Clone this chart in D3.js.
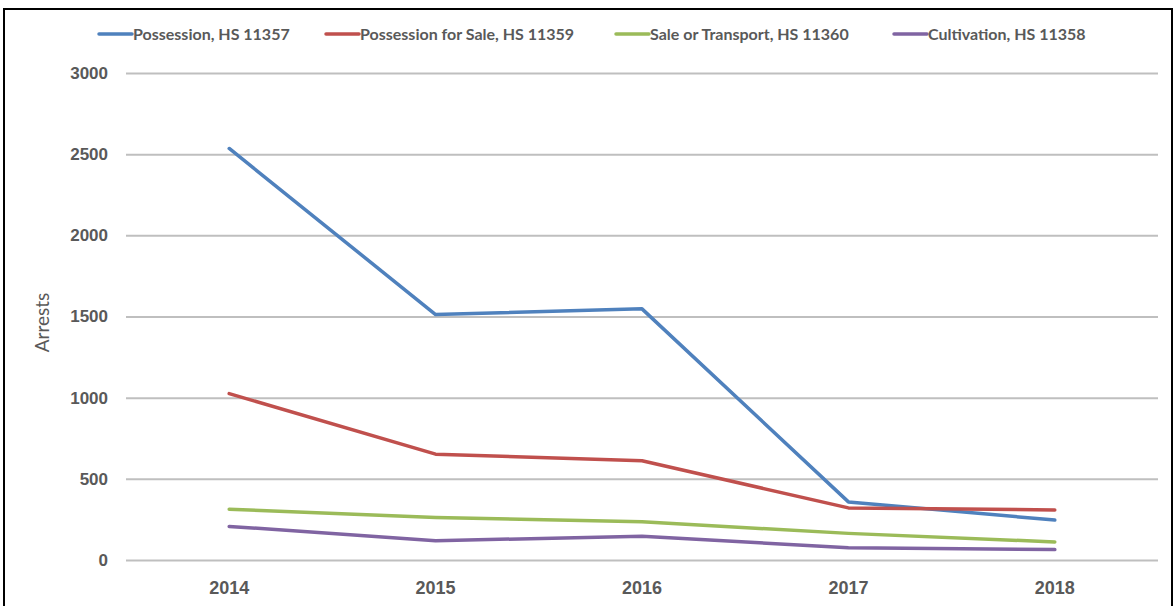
<!DOCTYPE html>
<html>
<head>
<meta charset="utf-8">
<script src="https://cdnjs.cloudflare.com/ajax/libs/d3/7.8.5/d3.min.js"></script>
<style>
  body { margin: 0; background: #fff; }
  svg { display: block; font-family: Lato, "Open Sans", sans-serif; }
</style>
</head>
<body>
<svg id="chart" width="1175" height="606"></svg>
<script>
// data
var years = ["2014", "2015", "2016", "2017", "2018"];
var seriesNames = ["Possession, HS 11357", "Possession for Sale, HS 11359", "Sale or Transport, HS 11360", "Cultivation, HS 11358"];
var possession = [2535, 1512, 1547, 358, 246];
var possessionSale = [1025, 652, 611, 321, 308];
var saleTransport = [313, 262, 235, 164, 111];
var cultivation = [207, 119, 146, 76, 64];
var yTicks = [0, 500, 1000, 1500, 2000, 2500, 3000];
var colours = ["#4F81BD", "#C0504D", "#9BBB59", "#8064A2"];

var series = [possession, possessionSale, saleTransport, cultivation].map(function(vals, i){
    return { name: seriesNames[i], values: vals.map(function(v, j){ return { year: years[j], value: v }; }) };
});

var svg = d3.select("#chart");

// outer frame
svg.append("rect")
    .attr("x", 4).attr("y", 9)
    .attr("width", 1168).attr("height", 605)
    .attr("fill", "none")
    .attr("stroke", "#000")
    .attr("stroke-width", 2);

var margin = { left: 126, right: 17, top: 73, bottom: 46 };
var plotWidth = 1175 - margin.left - margin.right;
var plotHeight = 606 - margin.top - margin.bottom;

var xScale = d3.scaleBand()
    .domain(years)
    .range([0, plotWidth]);

var yScale = d3.scaleLinear()
    .domain([0, 3000])
    .range([plotHeight, 0]);

var plot = svg.append("g")
    .attr("transform", "translate(" + margin.left + "," + margin.top + ")");

// gridlines + y labels
var yAxis = plot.append("g")
    .call(d3.axisLeft(yScale).tickValues(yTicks).tickSize(-plotWidth).tickPadding(18).tickFormat(d3.format("d")));
yAxis.select(".domain").remove();
yAxis.selectAll(".tick line").attr("stroke", "#BFBFBF").attr("stroke-width", 2);
yAxis.selectAll(".tick text")
    .attr("fill", "#595959")
    .style("font-size", "17px")
    .style("font-weight", "bold");

// x labels
var xAxis = plot.append("g")
    .attr("transform", "translate(0," + plotHeight + ")")
    .call(d3.axisBottom(xScale).tickSize(0).tickPadding(21));
xAxis.select(".domain").remove();
xAxis.selectAll(".tick text")
    .attr("fill", "#595959")
    .style("font-size", "18px")
    .style("font-weight", "bold");

// axis title
svg.append("text")
    .attr("transform", "translate(49," + (margin.top + plotHeight / 2 + 6) + ") rotate(-90)")
    .attr("text-anchor", "middle")
    .attr("fill", "#595959")
    .style("font-size", "19px")
    .text("Arrests");

var line = d3.line()
    .x(function(d){ return xScale(d.year) + xScale.bandwidth() / 2; })
    .y(function(d){ return yScale(d.value); });

plot.selectAll(".series")
    .data(series)
    .enter()
    .append("path")
    .attr("class", "series")
    .attr("d", function(d){ return line(d.values); })
    .attr("fill", "none")
    .attr("stroke", function(d, i){ return colours[i]; })
    .attr("stroke-width", 3.5)
    .attr("stroke-linejoin", "round")
    .attr("stroke-linecap", "round");

// legend
var legendX = [99, 326, 616, 894];
var legend = svg.append("g")
    .selectAll("g")
    .data(series)
    .enter()
    .append("g")
    .attr("transform", function(d, i){ return "translate(" + legendX[i] + ",34)"; });

legend.append("line")
    .attr("x1", 0).attr("x2", 33)
    .attr("y1", 0).attr("y2", 0)
    .attr("stroke", function(d, i){ return colours[i]; })
    .attr("stroke-width", 3.5)
    .attr("stroke-linecap", "round");

legend.append("text")
    .attr("x", 34)
    .attr("y", 6)
    .attr("fill", "#595959")
    .style("font-size", "16px")
    .style("font-weight", "bold")
    .text(function(d){ return d.name; });
</script>
</body>
</html>
